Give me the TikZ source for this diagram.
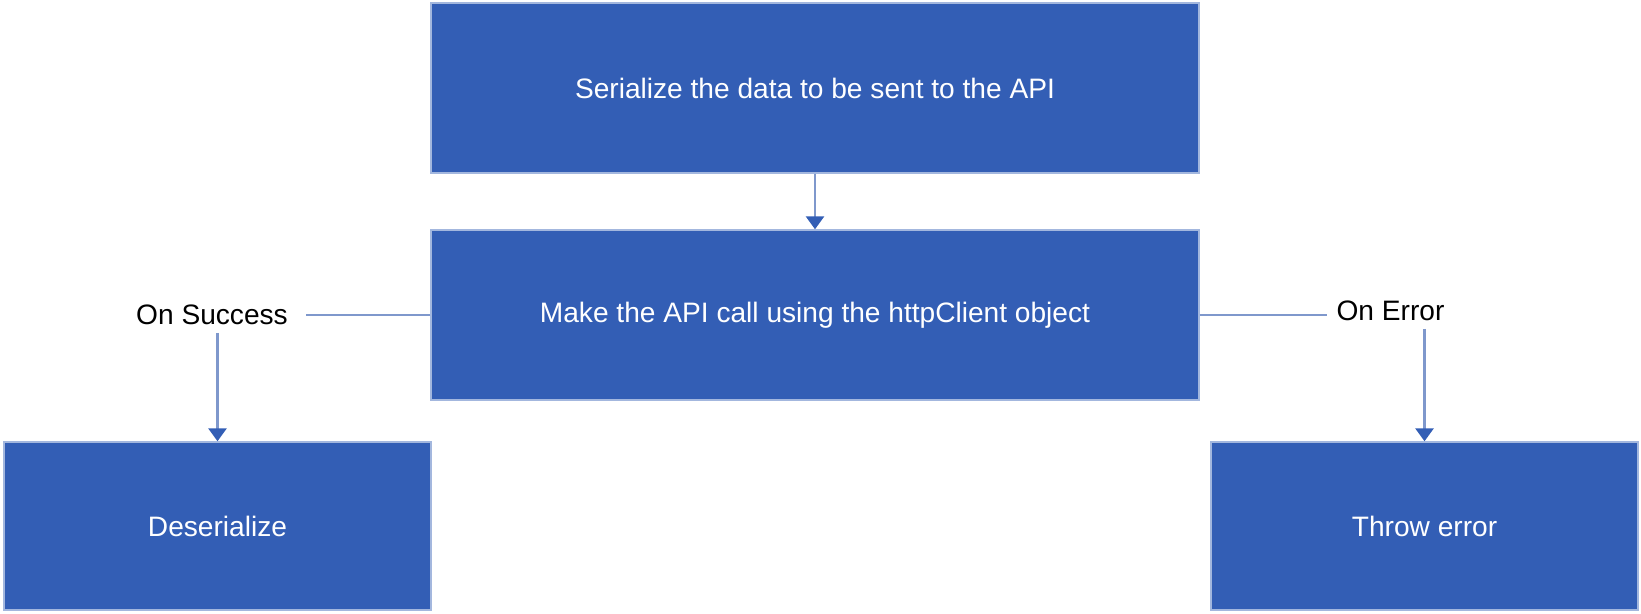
\documentclass[tikz,border=0pt]{standalone}
\usepackage{fontspec}
\setmainfont{Liberation Sans}
\usepackage{tikz}
\usetikzlibrary{arrows.meta}
\definecolor{apiblue}{HTML}{335EB5}
\definecolor{linkblue}{HTML}{7F98CC}

\begin{document}
\begin{tikzpicture}[font=\fontsize{16}{19}\selectfont,
  box/.style={draw=apiblue!45,line width=0.8pt,fill=apiblue,text=white,minimum width=15.36cm,minimum height=3.4cm,inner sep=0pt},
  outcome/.style={box,minimum width=8.54cm,minimum height=3.36cm},
  tag/.style={inner xsep=0.35cm,inner ysep=0.15cm},
  link/.style={linkblue,line width=1.6pt},
  >={Triangle[width=0.36cm,length=0.26cm,color=apiblue]}]
  \useasboundingbox (0,0) rectangle (32.82,12.26);
  \node[box] (serialize) at (16.3,10.5) {Serialize the data to be sent to the API};
  \node[box] (call) at (16.3,5.96) {Make the API call using the httpClient object};
  \node[outcome] (deserialize) at (4.35,1.74) {Deserialize};
  \node[outcome] (throw) at (28.49,1.74) {Throw error};
  \node[tag] (success) at (4.24,5.96) {On Success};
  \node[tag,inner xsep=0.18cm] (error) at (27.81,6.04) {On Error};
  \draw[link,->] (serialize) -- (call);
  \draw[link] (call.west) -- (success.east); \draw[link,->] (success.south -| deserialize.north) -- (deserialize.north);
  \draw[link] (call.east) -- (call.east -| error.west); \draw[link,->] (error.south -| throw.north) -- (throw.north);
\end{tikzpicture}
\end{document}
